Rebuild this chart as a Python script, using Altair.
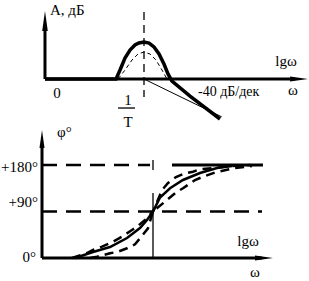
import altair as alt
import pandas as pd

# ---------------- data ----------------
# Upper panel: amplitude A (dB) versus lg(omega*T)
amp_thick_u = [-1.338, -0.378, -0.324, -0.257, -0.189, -0.122, -0.068, 0.0, 0.068, 0.135, 0.203, 0.270, 0.324, 0.378, 0.622, 1.027]
amp_thick_A = [0, 0, 10, 23.3, 32.2, 37.8, 40, 41.1, 40, 35.6, 27.8, 16.7, 5.6, -2.2, -18.9, -44.4]
amp_dash_u = [-0.351, -0.257, -0.162, -0.081, 0.0, 0.081, 0.162, 0.243, 0.311]
amp_dash_A = [0, 10, 21.1, 27.8, 30, 27.8, 21.1, 10, 0]
asym_u = [0.0, 1.05]
asym_A = [0, -42]

# Lower panel: phase phi (deg) versus lg(omega*T)
ph_solid_u = [-1.054, -0.811, -0.581, -0.351, -0.176, -0.081, 0.0, 0.095, 0.230, 0.405, 0.635, 0.865, 1.068]
ph_solid_p = [0, 11.6, 21.3, 38.7, 58.1, 73.5, 90, 117, 135, 151, 164.5, 174, 178]
ph_up_u = [-1.095, -0.892, -0.811, -0.689, -0.541, -0.419, -0.284, -0.216, -0.108, 0.0, 0.122, 0.203, 0.311, 0.432, 0.541, 0.635, 0.797, 1.041, 1.311]
ph_up_p = [0, 9.7, 15.5, 21.9, 31.5, 41.2, 54.2, 60.6, 73.5, 90, 131.6, 145.2, 156.8, 163.9, 167, 171.7, 173.6, 178, 180]
ph_low_u = [-0.851, -0.757, -0.581, -0.473, -0.351, -0.243, -0.176, -0.068, 0.0, 0.324, 0.405, 0.568, 0.676, 0.838, 1.068, 1.338]
ph_low_p = [0, 2.5, 9.1, 12.2, 18.8, 26.5, 38.1, 57.5, 90, 128.3, 134.9, 151, 157.3, 165.5, 173.2, 178]

FONT = "Liberation Serif"
BLACK = "#000000"

xs_top = alt.Scale(domain=[-1.9459, 2.2297], nice=False, zero=False)
ys_top = alt.Scale(domain=[-54.4, 87.78], nice=False, zero=False)
xs_bot = alt.Scale(domain=[-2.0676, 2.1081], nice=False, zero=False)
ys_bot = alt.Scale(domain=[-44.5, 251.6], nice=False, zero=False)


def line(u, v, xs, ys, **kw):
    df = pd.DataFrame({"u": u, "v": v, "o": list(range(len(u)))})
    return alt.Chart(df).mark_line(color=BLACK, **kw).encode(
        x=alt.X("u:Q", scale=xs, axis=None),
        y=alt.Y("v:Q", scale=ys, axis=None),
        order="o:Q",
    )


def label(u, v, text, xs, ys, align="left", size=15):
    df = pd.DataFrame({"u": [u], "v": [v], "t": [text]})
    return alt.Chart(df).mark_text(
        font=FONT, fontSize=size, align=align, baseline="alphabetic", color=BLACK
    ).encode(
        x=alt.X("u:Q", scale=xs, axis=None),
        y=alt.Y("v:Q", scale=ys, axis=None),
        text="t:N",
    )


def arrow(u, v, shape, sz, xs, ys):
    df = pd.DataFrame({"u": [u], "v": [v]})
    return alt.Chart(df).mark_point(
        shape=shape, filled=True, size=sz, color=BLACK, opacity=1, strokeWidth=0
    ).encode(
        x=alt.X("u:Q", scale=xs, axis=None),
        y=alt.Y("v:Q", scale=ys, axis=None),
    )


UP = "M0,-1L0.28,1L-0.28,1Z"
RIGHT = "M1,0L-1,0.28L-1,-0.28Z"

# ---------------- upper panel ----------------
top = alt.layer(
    line([-1.338, -1.338], [0, 60], xs_top, ys_top, strokeWidth=3),
    arrow(-1.338, 64.4, UP, 400, xs_top, ys_top),
    line([-1.338, 2.04], [0, 0], xs_top, ys_top, strokeWidth=3),
    arrow(2.095, 0, RIGHT, 324, xs_top, ys_top),
    line([0, 0], [74.4, -20], xs_top, ys_top, strokeWidth=1.3, strokeDash=[8, 5]),
    line(asym_u, asym_A, xs_top, ys_top, strokeWidth=1),
    line(amp_dash_u, amp_dash_A, xs_top, ys_top, strokeWidth=1, strokeDash=[4, 3]),
    line(amp_thick_u, amp_thick_A, xs_top, ys_top, strokeWidth=3.5),
    line([-0.351, -0.122], [-32.2, -32.2], xs_top, ys_top, strokeWidth=1.3),
    label(-1.27, 71.1, "А, дБ", xs_top, ys_top),
    label(-1.176, -21.1, "0", xs_top, ys_top, align="center"),
    label(-0.216, -28.9, "1", xs_top, ys_top, align="center"),
    label(-0.216, -53.3, "T", xs_top, ys_top, align="center"),
    label(1.919, 14.4, "lgω", xs_top, ys_top, align="center"),
    label(2.014, -17.8, "ω", xs_top, ys_top, align="center"),
    label(0.73, -18.9, "-40 дБ/дек", xs_top, ys_top, size=14),
).properties(width=309, height=128)

# ---------------- lower panel ----------------
bot = alt.layer(
    line([-1.5, -1.5], [0, 218.7], xs_bot, ys_bot, strokeWidth=3),
    arrow(-1.5, 230.3, UP, 324, xs_bot, ys_bot),
    line([-1.5, 1.473], [0, 0], xs_bot, ys_bot, strokeWidth=3),
    arrow(1.5, 0, RIGHT, 324, xs_bot, ys_bot),
    line([0, 0], [0, 125.8], xs_bot, ys_bot, strokeWidth=1.3),
    line([0, 0], [170.3, 189.7], xs_bot, ys_bot, strokeWidth=1.3),
    line([-1.5, -0.04], [180, 180], xs_bot, ys_bot, strokeWidth=2.5, strokeDash=[15, 9]),
    line([0.257, 1.486], [180, 180], xs_bot, ys_bot, strokeWidth=3),
    line([-1.5, 1.473], [90, 90], xs_bot, ys_bot, strokeWidth=2.5, strokeDash=[15, 9]),
    line(ph_up_u, ph_up_p, xs_bot, ys_bot, strokeWidth=2.5, strokeDash=[9, 6]),
    line(ph_low_u, ph_low_p, xs_bot, ys_bot, strokeWidth=2.5, strokeDash=[9, 6]),
    line(ph_solid_u, ph_solid_p, xs_bot, ys_bot, strokeWidth=2.5),
    label(-1.297, 234.2, "φ°", xs_bot, ys_bot),
    label(-1.554, 166.4, "+180°", xs_bot, ys_bot, align="right"),
    label(-1.554, 98.7, "+90°", xs_bot, ys_bot, align="right"),
    label(-1.581, -7.7, "0°", xs_bot, ys_bot, align="right"),
    label(1.284, 23.2, "lgω", xs_bot, ys_bot, align="center"),
    label(1.378, -36.8, "ω", xs_bot, ys_bot, align="center"),
).properties(width=309, height=153)

chart = (
    alt.vconcat(top, bot, spacing=0, bounds="flush")
    .resolve_scale(x="independent", y="independent")
    .properties(padding=0, background="white")
    .configure_view(strokeWidth=0)
)

chart.save("out.html", embed_options={"renderer": "svg", "actions": False})
